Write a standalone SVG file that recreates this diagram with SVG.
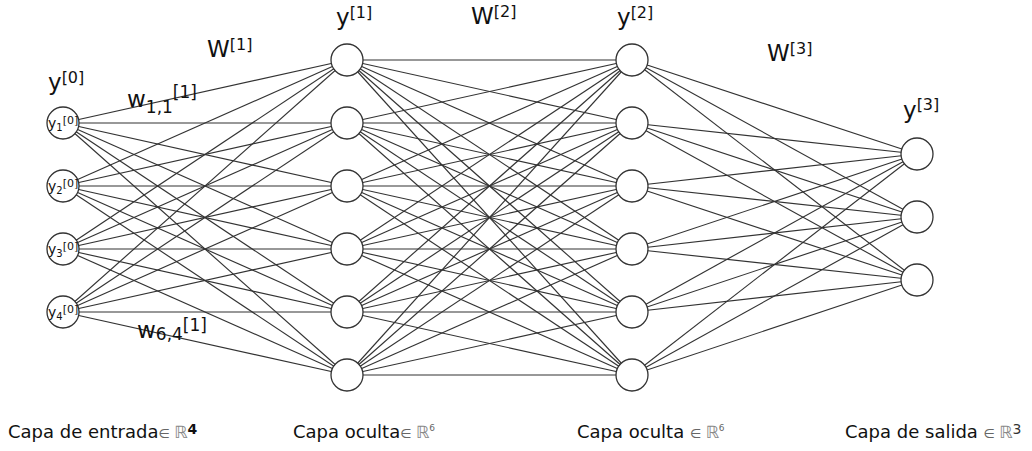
<svg xmlns="http://www.w3.org/2000/svg" width="1032" height="451" viewBox="0 0 1032 451">
  <style>
    .edge { stroke: #333; stroke-width: 1.15; }
    .neuron { fill: #fff; stroke: #333; stroke-width: 1.3; }
    text { font-family: "DejaVu Sans", Verdana, sans-serif; fill: #111; }
    .big { font-size: 23px; }
    .sup { font-size: 16px; }
    .wsup { font-size: 17px; }
    .nl { font-size: 14px; }
    .nls { font-size: 10px; }
    .nlp { font-size: 11px; }
    .cap { font-size: 18px; }
    .elem { font-size: 13px; fill: #666; }
    .dbl { font-size: 17px; fill: #888; }
  </style>

  <!-- connections between layers -->
  <g id="connectors">
    <!-- input -> hidden 1 -->
    <line class="edge" x1="63" y1="123" x2="347" y2="60"/>
    <line class="edge" x1="63" y1="123" x2="347" y2="123"/>
    <line class="edge" x1="63" y1="123" x2="347" y2="186"/>
    <line class="edge" x1="63" y1="123" x2="347" y2="249"/>
    <line class="edge" x1="63" y1="123" x2="347" y2="312"/>
    <line class="edge" x1="63" y1="123" x2="347" y2="375"/>
    <line class="edge" x1="63" y1="186" x2="347" y2="60"/>
    <line class="edge" x1="63" y1="186" x2="347" y2="123"/>
    <line class="edge" x1="63" y1="186" x2="347" y2="186"/>
    <line class="edge" x1="63" y1="186" x2="347" y2="249"/>
    <line class="edge" x1="63" y1="186" x2="347" y2="312"/>
    <line class="edge" x1="63" y1="186" x2="347" y2="375"/>
    <line class="edge" x1="63" y1="249" x2="347" y2="60"/>
    <line class="edge" x1="63" y1="249" x2="347" y2="123"/>
    <line class="edge" x1="63" y1="249" x2="347" y2="186"/>
    <line class="edge" x1="63" y1="249" x2="347" y2="249"/>
    <line class="edge" x1="63" y1="249" x2="347" y2="312"/>
    <line class="edge" x1="63" y1="249" x2="347" y2="375"/>
    <line class="edge" x1="63" y1="312" x2="347" y2="60"/>
    <line class="edge" x1="63" y1="312" x2="347" y2="123"/>
    <line class="edge" x1="63" y1="312" x2="347" y2="186"/>
    <line class="edge" x1="63" y1="312" x2="347" y2="249"/>
    <line class="edge" x1="63" y1="312" x2="347" y2="312"/>
    <line class="edge" x1="63" y1="312" x2="347" y2="375"/>
    <!-- hidden 1 -> hidden 2 -->
    <line class="edge" x1="347" y1="60" x2="632" y2="60"/>
    <line class="edge" x1="347" y1="60" x2="632" y2="123"/>
    <line class="edge" x1="347" y1="60" x2="632" y2="186"/>
    <line class="edge" x1="347" y1="60" x2="632" y2="249"/>
    <line class="edge" x1="347" y1="60" x2="632" y2="312"/>
    <line class="edge" x1="347" y1="60" x2="632" y2="375"/>
    <line class="edge" x1="347" y1="123" x2="632" y2="60"/>
    <line class="edge" x1="347" y1="123" x2="632" y2="123"/>
    <line class="edge" x1="347" y1="123" x2="632" y2="186"/>
    <line class="edge" x1="347" y1="123" x2="632" y2="249"/>
    <line class="edge" x1="347" y1="123" x2="632" y2="312"/>
    <line class="edge" x1="347" y1="123" x2="632" y2="375"/>
    <line class="edge" x1="347" y1="186" x2="632" y2="60"/>
    <line class="edge" x1="347" y1="186" x2="632" y2="123"/>
    <line class="edge" x1="347" y1="186" x2="632" y2="186"/>
    <line class="edge" x1="347" y1="186" x2="632" y2="249"/>
    <line class="edge" x1="347" y1="186" x2="632" y2="312"/>
    <line class="edge" x1="347" y1="186" x2="632" y2="375"/>
    <line class="edge" x1="347" y1="249" x2="632" y2="60"/>
    <line class="edge" x1="347" y1="249" x2="632" y2="123"/>
    <line class="edge" x1="347" y1="249" x2="632" y2="186"/>
    <line class="edge" x1="347" y1="249" x2="632" y2="249"/>
    <line class="edge" x1="347" y1="249" x2="632" y2="312"/>
    <line class="edge" x1="347" y1="249" x2="632" y2="375"/>
    <line class="edge" x1="347" y1="312" x2="632" y2="60"/>
    <line class="edge" x1="347" y1="312" x2="632" y2="123"/>
    <line class="edge" x1="347" y1="312" x2="632" y2="186"/>
    <line class="edge" x1="347" y1="312" x2="632" y2="249"/>
    <line class="edge" x1="347" y1="312" x2="632" y2="312"/>
    <line class="edge" x1="347" y1="312" x2="632" y2="375"/>
    <line class="edge" x1="347" y1="375" x2="632" y2="60"/>
    <line class="edge" x1="347" y1="375" x2="632" y2="123"/>
    <line class="edge" x1="347" y1="375" x2="632" y2="186"/>
    <line class="edge" x1="347" y1="375" x2="632" y2="249"/>
    <line class="edge" x1="347" y1="375" x2="632" y2="312"/>
    <line class="edge" x1="347" y1="375" x2="632" y2="375"/>
    <!-- hidden 2 -> output -->
    <line class="edge" x1="632" y1="60" x2="917" y2="154"/>
    <line class="edge" x1="632" y1="60" x2="917" y2="217"/>
    <line class="edge" x1="632" y1="60" x2="917" y2="280"/>
    <line class="edge" x1="632" y1="123" x2="917" y2="154"/>
    <line class="edge" x1="632" y1="123" x2="917" y2="217"/>
    <line class="edge" x1="632" y1="123" x2="917" y2="280"/>
    <line class="edge" x1="632" y1="186" x2="917" y2="154"/>
    <line class="edge" x1="632" y1="186" x2="917" y2="217"/>
    <line class="edge" x1="632" y1="186" x2="917" y2="280"/>
    <line class="edge" x1="632" y1="249" x2="917" y2="154"/>
    <line class="edge" x1="632" y1="249" x2="917" y2="217"/>
    <line class="edge" x1="632" y1="249" x2="917" y2="280"/>
    <line class="edge" x1="632" y1="312" x2="917" y2="154"/>
    <line class="edge" x1="632" y1="312" x2="917" y2="217"/>
    <line class="edge" x1="632" y1="312" x2="917" y2="280"/>
    <line class="edge" x1="632" y1="375" x2="917" y2="154"/>
    <line class="edge" x1="632" y1="375" x2="917" y2="217"/>
    <line class="edge" x1="632" y1="375" x2="917" y2="280"/>
  </g>

  <!-- input layer -->
  <g id="in1"><circle class="neuron" cx="63" cy="123" r="16"/><text x="48" y="128"><tspan class="nl">y</tspan><tspan class="nls" dy="3">1</tspan><tspan class="nlp" dy="-7">[0]</tspan></text></g>
  <g id="in2"><circle class="neuron" cx="63" cy="186" r="16"/><text x="48" y="191"><tspan class="nl">y</tspan><tspan class="nls" dy="3">2</tspan><tspan class="nlp" dy="-7">[0]</tspan></text></g>
  <g id="in3"><circle class="neuron" cx="63" cy="249" r="16"/><text x="48" y="254"><tspan class="nl">y</tspan><tspan class="nls" dy="3">3</tspan><tspan class="nlp" dy="-7">[0]</tspan></text></g>
  <g id="in4"><circle class="neuron" cx="63" cy="312" r="16"/><text x="48" y="317"><tspan class="nl">y</tspan><tspan class="nls" dy="3">4</tspan><tspan class="nlp" dy="-7">[0]</tspan></text></g>

  <!-- hidden layer 1 -->
  <g id="h1-1"><circle class="neuron" cx="347" cy="60" r="16"/></g>
  <g id="h1-2"><circle class="neuron" cx="347" cy="123" r="16"/></g>
  <g id="h1-3"><circle class="neuron" cx="347" cy="186" r="16"/></g>
  <g id="h1-4"><circle class="neuron" cx="347" cy="249" r="16"/></g>
  <g id="h1-5"><circle class="neuron" cx="347" cy="312" r="16"/></g>
  <g id="h1-6"><circle class="neuron" cx="347" cy="375" r="16"/></g>

  <!-- hidden layer 2 -->
  <g id="h2-1"><circle class="neuron" cx="632" cy="60" r="16"/></g>
  <g id="h2-2"><circle class="neuron" cx="632" cy="123" r="16"/></g>
  <g id="h2-3"><circle class="neuron" cx="632" cy="186" r="16"/></g>
  <g id="h2-4"><circle class="neuron" cx="632" cy="249" r="16"/></g>
  <g id="h2-5"><circle class="neuron" cx="632" cy="312" r="16"/></g>
  <g id="h2-6"><circle class="neuron" cx="632" cy="375" r="16"/></g>

  <!-- output layer -->
  <g id="out1"><circle class="neuron" cx="917" cy="154" r="16"/></g>
  <g id="out2"><circle class="neuron" cx="917" cy="217" r="16"/></g>
  <g id="out3"><circle class="neuron" cx="917" cy="280" r="16"/></g>

  <!-- layer and weight labels -->
  <g id="labels">
    <text x="48" y="90"><tspan class="big">y</tspan><tspan class="sup" dy="-7">[0]</tspan></text>
    <text x="336" y="25"><tspan class="big">y</tspan><tspan class="sup" dy="-7">[1]</tspan></text>
    <text x="617" y="25"><tspan class="big">y</tspan><tspan class="sup" dy="-7">[2]</tspan></text>
    <text x="903" y="118"><tspan class="big">y</tspan><tspan class="sup" dy="-8">[3]</tspan></text>
    <text x="207" y="57"><tspan class="big">W</tspan><tspan class="sup" dy="-7">[1]</tspan></text>
    <text x="471" y="24"><tspan class="big">W</tspan><tspan class="sup" dy="-7">[2]</tspan></text>
    <text x="767" y="61"><tspan class="big">W</tspan><tspan class="sup" dy="-7">[3]</tspan></text>
    <text x="127" y="107"><tspan class="big" font-size="24">w</tspan><tspan class="wsup" dy="6">1,1</tspan><tspan class="wsup" dy="-15">[1]</tspan></text>
    <text x="137" y="338"><tspan class="big" font-size="24">w</tspan><tspan class="wsup" dy="2">6,4</tspan><tspan class="wsup" dy="-9">[1]</tspan></text>
  </g>

  <!-- layer captions -->
  <g id="captions">
    <text class="cap" x="8" y="438">Capa de entrada<tspan class="elem">∈ </tspan><tspan class="dbl">ℝ</tspan><tspan font-size="14" font-weight="bold" dy="-4">4</tspan></text>
    <text class="cap" x="293" y="438">Capa oculta<tspan class="elem">∈ </tspan><tspan class="dbl">ℝ</tspan><tspan font-size="9" fill="#666" dy="-7">6</tspan></text>
    <text class="cap" x="577" y="438">Capa oculta <tspan class="elem">∈ </tspan><tspan class="dbl">ℝ</tspan><tspan font-size="9" fill="#666" dy="-7">6</tspan></text>
    <text class="cap" x="845" y="438">Capa de salida <tspan class="elem">∈ </tspan><tspan class="dbl">ℝ</tspan><tspan font-size="14" fill="#333" dy="-4">3</tspan></text>
  </g>
</svg>
